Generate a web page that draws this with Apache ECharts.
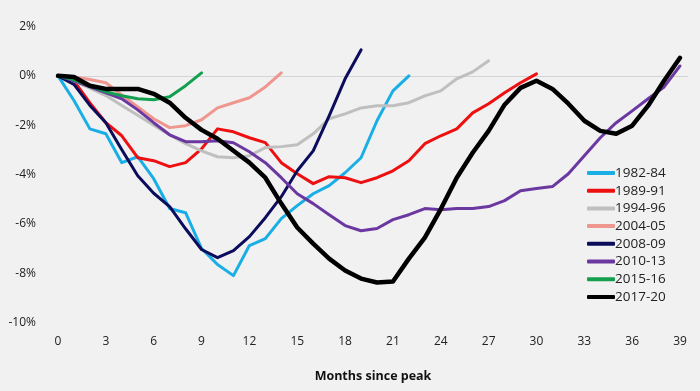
<!DOCTYPE html>
<html>
<head>
<meta charset="utf-8">
<script src="https://cdn.jsdelivr.net/npm/echarts@6/dist/echarts.min.js"></script>
<style>
html,body{margin:0;padding:0;background:#f1f1f1;}
#c{width:700px;height:391px;}
</style>
</head>
<body>
<div id="c"></div>
<script>
const seriesNames = ['1982-84','1989-91','1994-96','2004-05','2008-09','2010-13','2015-16','2017-20'];
const seriesColors = ['#1aaee6','#ee1010','#bfbfbf','#ef968e','#0c0c5c','#6a38a0','#12a04e','#000000'];

const s1982 = [0,-1.0,-2.15,-2.35,-3.52,-3.28,-4.17,-5.38,-5.55,-7.0,-7.65,-8.1,-6.88,-6.6,-5.79,-5.26,-4.78,-4.45,-3.93,-3.32,-1.82,-0.61,0.0];
const s1989 = [0,-0.2,-1.1,-1.9,-2.43,-3.32,-3.44,-3.68,-3.52,-2.96,-2.15,-2.27,-2.51,-2.71,-3.52,-3.97,-4.37,-4.09,-4.13,-4.33,-4.13,-3.85,-3.44,-2.75,-2.43,-2.15,-1.5,-1.13,-0.69,-0.28,0.08];
const s1994 = [0,-0.2,-0.5,-0.8,-1.2,-1.6,-2.0,-2.4,-2.75,-3.04,-3.28,-3.32,-3.24,-2.91,-2.87,-2.79,-2.35,-1.74,-1.54,-1.3,-1.21,-1.21,-1.09,-0.81,-0.61,-0.12,0.16,0.61];
const s2004 = [0,-0.05,-0.15,-0.28,-0.77,-1.26,-1.74,-2.1,-2.02,-1.78,-1.3,-1.09,-0.89,-0.45,0.12];
const s2008 = [0,-0.35,-1.2,-1.9,-3.0,-4.05,-4.76,-5.3,-6.2,-7.04,-7.37,-7.09,-6.52,-5.75,-4.9,-3.85,-3.04,-1.62,-0.12,1.05];
const s2010 = [0,-0.2,-0.45,-0.69,-0.93,-1.38,-1.9,-2.39,-2.67,-2.67,-2.63,-2.71,-3.08,-3.52,-4.13,-4.78,-5.18,-5.63,-6.07,-6.28,-6.19,-5.83,-5.63,-5.38,-5.43,-5.38,-5.38,-5.3,-5.06,-4.66,-4.57,-4.49,-3.97,-3.24,-2.51,-1.9,-1.42,-0.93,-0.45,0.4];
const s2015 = [0,-0.16,-0.4,-0.65,-0.81,-0.93,-0.97,-0.85,-0.4,0.12];
const s2017 = [0,-0.05,-0.4,-0.53,-0.53,-0.53,-0.73,-1.09,-1.7,-2.19,-2.55,-3.04,-3.52,-4.13,-5.18,-6.15,-6.8,-7.41,-7.89,-8.22,-8.38,-8.34,-7.41,-6.56,-5.4,-4.13,-3.12,-2.23,-1.17,-0.49,-0.2,-0.53,-1.13,-1.82,-2.23,-2.35,-2.02,-1.21,-0.2,0.73];

const allData = [s1982,s1989,s1994,s2004,s2008,s2010,s2015,s2017];
const xTicks = [0,3,6,9,12,15,18,21,24,27,30,33,36,39];
const yTicks = [-10,-8,-6,-4,-2,0,2];
const xAxisTitle = 'Months since peak';

const font = '"Open Sans", "Noto Sans", sans-serif';
const chart = echarts.init(document.getElementById('c'), null, {renderer:'canvas'});

const series = seriesNames.map((n,i)=>({
  name:n,
  type:'line',
  data: allData[i].map((v,k)=>[k,v]),
  showSymbol:false,
  symbol:'none',
  smooth:false,
  z: i===7 ? 10 : 2+i,
  lineStyle:{color:seriesColors[i], width: i===7?4.5:3, cap:'round', join:'round'},
  itemStyle:{color:seriesColors[i]},
  markLine: i===0 ? {
    silent:true, symbol:'none', label:{show:false},
    lineStyle:{color:'#d4d4d4', width:1, type:'solid'},
    data:[{yAxis:0}], z:1
  } : undefined
}));

chart.setOption({
  backgroundColor:'#f1f1f1',
  animation:false,
  grid:{left:58, right:12, top:26.5, bottom:68.5, containLabel:false},
  xAxis:{
    type:'value', min:0, max:39.5, interval:3,
    axisLine:{show:false}, axisTick:{show:false}, splitLine:{show:false},
    axisLabel:{color:'#222', fontSize:12, fontFamily:font, margin:13,
      formatter:v=> xTicks.includes(v) ? String(v) : ''},
    name:xAxisTitle, nameLocation:'middle', nameGap:47,
    nameTextStyle:{color:'#111', fontSize:12.5, fontWeight:'bold', fontFamily:font}
  },
  yAxis:{
    type:'value', min:yTicks[0], max:yTicks[yTicks.length-1], interval:2,
    axisLine:{show:false}, axisTick:{show:false}, splitLine:{show:false},
    axisLabel:{color:'#222', fontSize:12, fontFamily:font, margin:22, formatter:'{value}%'}
  },
  legend:{
    orient:'vertical', left:582, top:161,
    itemWidth:28, itemHeight:4, itemGap:3.7,
    icon:'roundRect',
    textStyle:{color:'#222', fontSize:13.5, fontFamily:font, padding:[0,0,0,-5], lineHeight:14},
    data:seriesNames
  },
  series:series
});
</script>
</body>
</html>
